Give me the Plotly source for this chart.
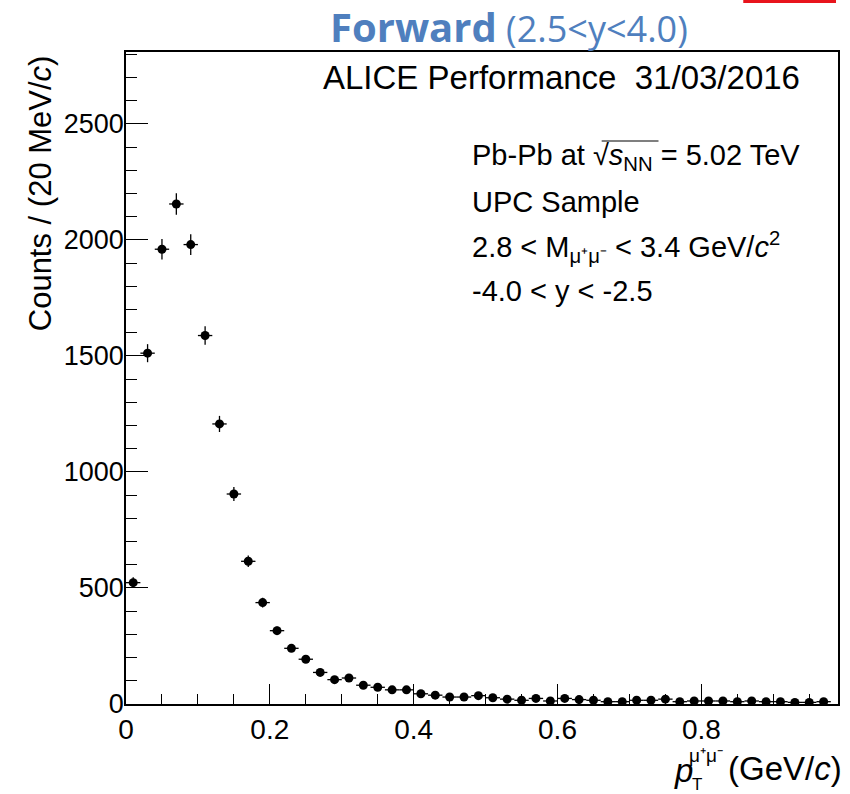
import numpy as np
import plotly.graph_objects as go

# Data: bin centres (GeV/c) and counts per 20 MeV/c bin
pt = [0.01, 0.03, 0.05, 0.07, 0.09, 0.11, 0.13, 0.15, 0.17, 0.19,
      0.21, 0.23, 0.25, 0.27, 0.29, 0.31, 0.33, 0.35, 0.37, 0.39,
      0.41, 0.43, 0.45, 0.47, 0.49, 0.51, 0.53, 0.55, 0.57, 0.59,
      0.61, 0.63, 0.65, 0.67, 0.69, 0.71, 0.73, 0.75, 0.77, 0.79,
      0.81, 0.83, 0.85, 0.87, 0.89, 0.91, 0.93, 0.95, 0.97]
counts = [523, 1512, 1960, 2155, 1980, 1588, 1207, 905, 615, 437,
          316, 240, 193, 136, 105, 112, 81, 72, 61, 61,
          44, 38, 30, 30, 36, 27, 21, 16, 24, 13,
          24, 19, 16, 10, 10, 16, 16, 21, 10, 13,
          13, 13, 10, 13, 10, 10, 7, 7, 10]
half_bin = [0.01] * len(pt)
stat_err = list(np.sqrt(np.array(counts, dtype=float)))

y_ticks = [0, 500, 1000, 1500, 2000, 2500]
x_ticks = [0, 0.2, 0.4, 0.6, 0.8]
x_tick_text = ["0", "0.2", "0.4", "0.6", "0.8"]

W, H = 850, 794
L, R, T, B = 126, 10, 52, 90
PW, PH = W - L - R, H - T - B

def px(x):
    return (x - L) / PW

def py(y):
    return (H - B - y) / PH

FONT = "Liberation Sans, Arial, Helvetica, sans-serif"

fig = go.Figure()
fig.add_trace(go.Scatter(
    x=pt, y=counts, mode="markers",
    marker=dict(color="black", size=9),
    error_x=dict(type="data", array=half_bin, color="black", thickness=1.3, width=0),
    error_y=dict(type="data", array=stat_err, color="black", thickness=1.3, width=0),
    showlegend=False, hoverinfo="x+y",
))

axis_common = dict(
    showgrid=False, zeroline=False, showline=True, linecolor="black", linewidth=1.5,
    mirror=True, ticks="inside", tickcolor="black", tickwidth=1.2,
)
fig.update_xaxes(range=[0, 0.99], tickvals=x_ticks, ticktext=x_tick_text, ticklen=20,
                 tickfont=dict(family=FONT, size=28, color="black"),
                 minor=dict(dtick=0.05, tick0=0, ticklen=10, ticks="inside", tickcolor="black", tickwidth=1.2),
                 **axis_common)
fig.update_yaxes(range=[0, 2810], tickvals=y_ticks, ticklen=22, ticklabelstandoff=-5,
                 tickfont=dict(family=FONT, size=27, color="black"),
                 minor=dict(dtick=100, tick0=0, ticklen=11, ticks="inside", tickcolor="black", tickwidth=1.2),
                 **axis_common)

ann = []
def text(x, y, s, size, xanchor="left", yanchor="middle", color="black", family=FONT, angle=0):
    ann.append(dict(x=px(x), y=py(y), xref="paper", yref="paper", text=s, showarrow=False,
                    xanchor=xanchor, yanchor=yanchor, textangle=angle,
                    font=dict(family=family, size=size, color=color)))

# Slide title
text(510, 26, "<span style='font-size:40px'><b>Forward</b></span> (2.5&lt;y&lt;4.0)", 36, xanchor="center",
     color="#4F7FBE", family="Open Sans, Lato, sans-serif")

# ALICE label
text(322, 77, "ALICE Performance  31/03/2016", 33)
# Info lines
text(471, 157, "Pb-Pb at \u221a<i>s</i><sub>NN</sub> = 5.02 TeV", 29)
text(471, 202, "UPC Sample", 29)
text(471, 247, "2.8 &lt; M<sub>\u03bc\u207a\u03bc\u207b</sub> &lt; 3.4 GeV/<i>c</i><sup>2</sup>", 29)
text(471, 291, "-4.0 &lt; y &lt; -2.5", 29)

# Axis titles
text(40, 53, "Counts / (20 MeV/<i>c</i>)", 31, xanchor="center", yanchor="top", angle=-90)
text(846, 768, "(GeV/<i>c</i>)", 33, xanchor="right")
text(674, 770, "<i>p</i>", 33)
text(689, 755, "\u03bc\u207a\u03bc\u207b", 19)
text(692, 784, "T", 17)

shapes = [
    dict(type="rect", xref="paper", yref="paper", x0=px(745), x1=px(838), y0=py(3), y1=py(0),
         fillcolor="#E8141C", line=dict(width=0)),
    dict(type="line", xref="paper", yref="paper", x0=px(603), x1=px(660), y0=py(141), y1=py(141),
         line=dict(color="black", width=1.2)),
]

fig.update_layout(
    width=W, height=H, margin=dict(l=L, r=R, t=T, b=B),
    paper_bgcolor="white", plot_bgcolor="white",
    annotations=ann, shapes=shapes,
)
fig.write_html("out.html")
